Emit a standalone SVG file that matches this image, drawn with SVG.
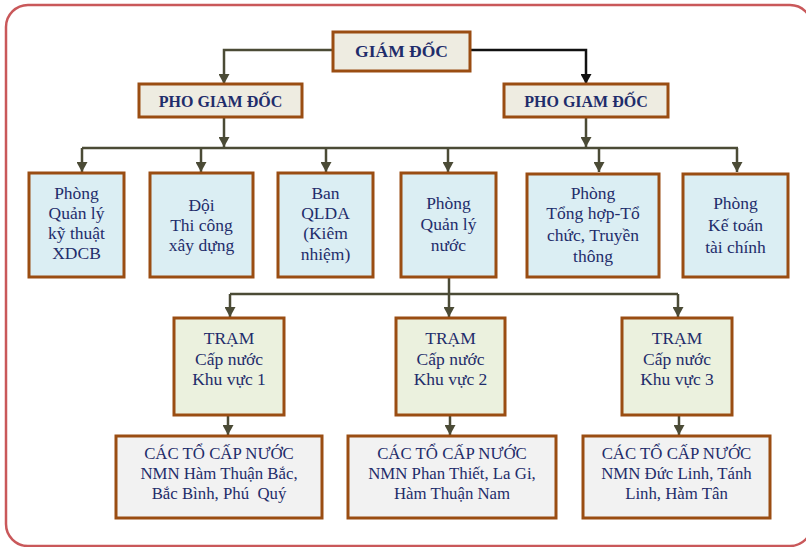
<svg xmlns="http://www.w3.org/2000/svg" width="806" height="547" viewBox="0 0 806 547">
  <style>
    .box { stroke: #9a4d12; stroke-width: 3; }
    .top { fill: #eeece1; }
    .dept { fill: #dbeef3; }
    .tram { fill: #ebf1de; }
    .unit { fill: #f2f2f2; }
    text { font-family: "Liberation Serif", "Times New Roman", serif; font-size: 17.5px; fill: #1f2d6b; text-anchor: middle; }
    .unit-t { font-size: 16.8px; }
    .hd { font-weight: bold; font-size: 16px; }
    .ln { fill: none; stroke: #4b4b36; stroke-width: 2.5; }
  </style>
  <defs>
    <marker id="arr" markerUnits="userSpaceOnUse" markerWidth="11" markerHeight="11" refX="10" refY="5.5" orient="auto">
      <path d="M0,0 L10,5.5 L0,11 z" fill="#4b4b36"/>
    </marker>
    <marker id="arrK" markerUnits="userSpaceOnUse" markerWidth="11" markerHeight="11" refX="10" refY="5.5" orient="auto">
      <path d="M0,0 L10,5.5 L0,11 z" fill="#111"/>
    </marker>
  </defs>

  <rect x="6" y="5" width="806" height="541" rx="22" fill="#ffffff" stroke="#c9585a" stroke-width="2.5"/>

  <g id="connectors">
    <path class="ln" d="M333,50 H224 V84" marker-end="url(#arr)"/>
    <path d="M470,50 H586 V84" fill="none" stroke="#111" stroke-width="2.5" marker-end="url(#arrK)"/>
    <path class="ln" d="M224,117 V147" marker-end="url(#arr)"/>
    <path class="ln" d="M586,117 V147" marker-end="url(#arr)"/>
    <path class="ln" d="M82,148 H738"/>
    <path class="ln" d="M82,148 V172" marker-end="url(#arr)"/>
    <path class="ln" d="M201,148 V172" marker-end="url(#arr)"/>
    <path class="ln" d="M326,148 V172" marker-end="url(#arr)"/>
    <path class="ln" d="M448,148 V172" marker-end="url(#arr)"/>
    <path class="ln" d="M599,148 V172" marker-end="url(#arr)"/>
    <path class="ln" d="M737,148 V172" marker-end="url(#arr)"/>
    <path class="ln" d="M449,277 V317" marker-end="url(#arr)"/>
    <path class="ln" d="M230,294 H678"/>
    <path class="ln" d="M230,294 V317" marker-end="url(#arr)"/>
    <path class="ln" d="M678,294 V317" marker-end="url(#arr)"/>
    <path class="ln" d="M228,415 V435" marker-end="url(#arr)"/>
    <path class="ln" d="M450,415 V435" marker-end="url(#arr)"/>
    <path class="ln" d="M679,415 V435" marker-end="url(#arr)"/>
  </g>

  <g id="giam-doc">
    <rect class="box top" x="333" y="32" width="137" height="39"/>
    <text class="hd" x="401.5" y="57" style="font-size:17.5px">GIÁM ĐỐC</text>
  </g>
  <g id="pho-giam-doc-1">
    <rect class="box top" x="139" y="84" width="163" height="33"/>
    <text class="hd" x="220.5" y="107">PHO GIAM ĐỐC</text>
  </g>
  <g id="pho-giam-doc-2">
    <rect class="box top" x="504" y="84" width="164" height="33"/>
    <text class="hd" x="586" y="107">PHO GIAM ĐỐC</text>
  </g>

  <g id="phong-ky-thuat">
    <rect class="box dept" x="29" y="173" width="95" height="104"/>
    <text x="76.5" y="199">Phòng</text>
    <text x="76.5" y="219">Quản lý</text>
    <text x="76.5" y="239">kỹ thuật</text>
    <text x="76.5" y="259">XDCB</text>
  </g>
  <g id="doi-thi-cong">
    <rect class="box dept" x="150" y="173" width="103" height="104"/>
    <text x="201.5" y="211">Đội</text>
    <text x="201.5" y="231">Thi công</text>
    <text x="201.5" y="251">xây dựng</text>
  </g>
  <g id="ban-qlda">
    <rect class="box dept" x="278" y="173" width="95" height="104"/>
    <text x="325.5" y="199">Ban</text>
    <text x="325.5" y="219">QLDA</text>
    <text x="325.5" y="239">(Kiêm</text>
    <text x="325.5" y="260">nhiệm)</text>
  </g>
  <g id="phong-quan-ly-nuoc">
    <rect class="box dept" x="401" y="173" width="95" height="104"/>
    <text x="448.5" y="209">Phòng</text>
    <text x="448.5" y="230">Quản lý</text>
    <text x="448.5" y="251">nước</text>
  </g>
  <g id="phong-tong-hop">
    <rect class="box dept" x="527" y="174" width="132" height="103"/>
    <text x="593" y="199">Phòng</text>
    <text x="593" y="219">Tổng hợp-Tổ</text>
    <text x="593" y="241">chức, Truyền</text>
    <text x="593" y="262">thông</text>
  </g>
  <g id="phong-ke-toan">
    <rect class="box dept" x="683" y="174" width="105" height="103"/>
    <text x="735.5" y="209">Phòng</text>
    <text x="735.5" y="231">Kế toán</text>
    <text x="735.5" y="253">tài chính</text>
  </g>

  <g id="tram-1">
    <rect class="box tram" x="174" y="318" width="110" height="97"/>
    <text x="229" y="344">TRẠM</text>
    <text x="229" y="365">Cấp nước</text>
    <text x="229" y="385">Khu vực 1</text>
  </g>
  <g id="tram-2">
    <rect class="box tram" x="396" y="318" width="109" height="97"/>
    <text x="450.5" y="344">TRẠM</text>
    <text x="450.5" y="365">Cấp nước</text>
    <text x="450.5" y="385">Khu vực 2</text>
  </g>
  <g id="tram-3">
    <rect class="box tram" x="622" y="318" width="110" height="97"/>
    <text x="677" y="344">TRẠM</text>
    <text x="677" y="365">Cấp nước</text>
    <text x="677" y="385">Khu vực 3</text>
  </g>

  <g id="to-cap-nuoc-1">
    <rect class="box unit" x="116" y="436" width="206" height="82"/>
    <text class="unit-t" x="219" y="459">CÁC TỔ CẤP NƯỚC</text>
    <text class="unit-t" x="219" y="479">NMN Hàm Thuận Bắc,</text>
    <text class="unit-t" x="219" y="499" xml:space="preserve">Bắc Bình, Phú  Quý</text>
  </g>
  <g id="to-cap-nuoc-2">
    <rect class="box unit" x="348" y="436" width="208" height="82"/>
    <text class="unit-t" x="452" y="459">CÁC TỔ CẤP NƯỚC</text>
    <text class="unit-t" x="452" y="479">NMN Phan Thiết, La Gi,</text>
    <text class="unit-t" x="452" y="499">Hàm Thuận Nam</text>
  </g>
  <g id="to-cap-nuoc-3">
    <rect class="box unit" x="583" y="436" width="187" height="82"/>
    <text class="unit-t" x="676.5" y="459">CÁC TỔ CẤP NƯỚC</text>
    <text class="unit-t" x="676.5" y="479">NMN Đức Linh, Tánh</text>
    <text class="unit-t" x="676.5" y="499">Linh, Hàm Tân</text>
  </g>
</svg>
